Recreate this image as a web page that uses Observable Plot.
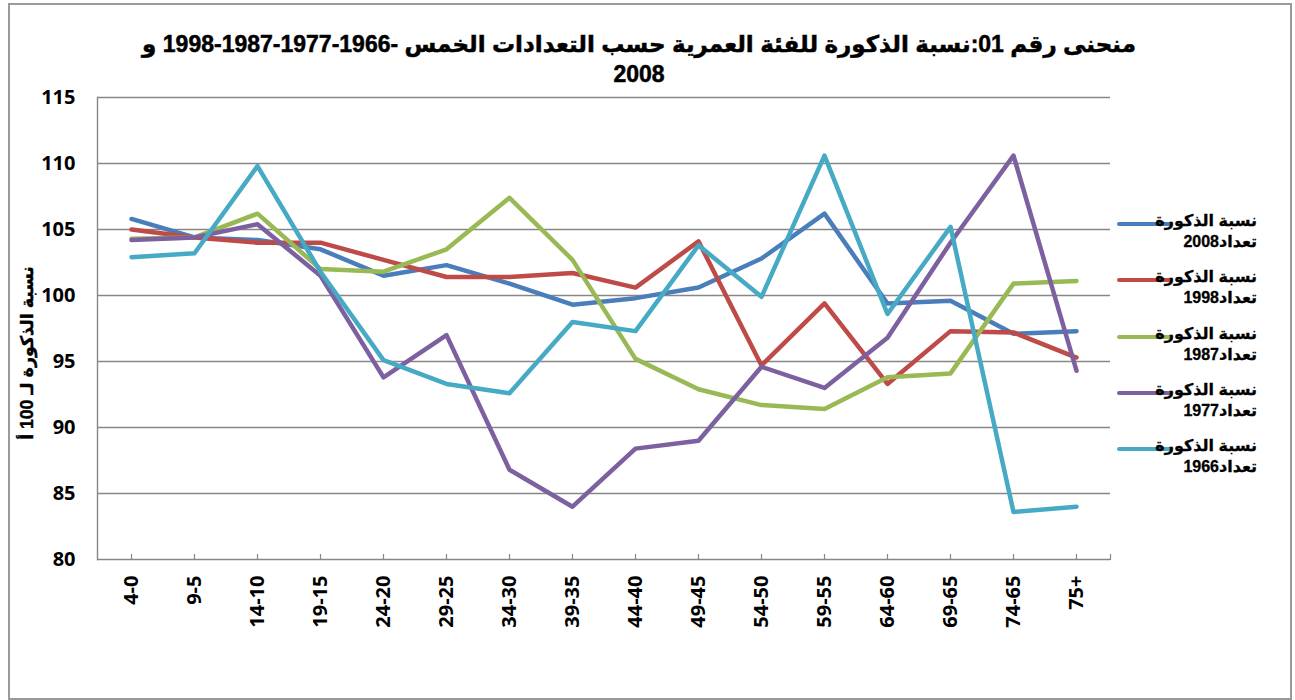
<!DOCTYPE html>
<html>
<head>
<meta charset="utf-8">
<script src="https://cdn.jsdelivr.net/npm/d3@7"></script>
<script src="https://cdn.jsdelivr.net/npm/@observablehq/plot@0.6"></script>
<style>
  html, body { margin: 0; padding: 0; background: #fff; }
  #wrap { position: relative; width: 1295px; height: 700px; overflow: hidden; }
  #border { position: absolute; left: 8px; top: 3px; width: 1280px; height: 693px; border: 2px solid #9a9a9a; box-sizing: content-box; }
  #title { position: absolute; left: 0; top: 29px; width: 1278px; text-align: center; direction: rtl;
           font-family: "Liberation Sans", "DejaVu Sans", sans-serif; font-weight: bold; font-size: 23px; line-height: 30px; color: #000; white-space: nowrap;
           -webkit-text-stroke: 0.5px #000; }
  #ylabel { position: absolute; left: 27px; top: 353px; transform: translate(-50%, -50%) rotate(-90deg);
            font-family: "Liberation Sans", "DejaVu Sans", sans-serif; font-weight: bold; font-size: 17.5px; white-space: nowrap; direction: rtl; color: #000;
            -webkit-text-stroke: 0.4px #000; }
  #legend { position: absolute; left: 1117px; top: 0; }
  .item { position: absolute; left: 0; width: 140px; height: 50px; }
  .swatch { position: absolute; left: 0; width: 55px; height: 4px; border-radius: 2px; }
  .lt { position: absolute; right: 0; direction: rtl; text-align: right; white-space: nowrap;
        font-family: "Liberation Sans", "DejaVu Sans", sans-serif; font-weight: bold; font-size: 16px; color: #000; line-height: 21px;
        -webkit-text-stroke: 0.3px #000; }
  svg { position: absolute; left: 0; top: 0; }
</style>
</head>
<body>
<div id="wrap">
  <div id="border"></div>
  <div id="chart"></div>
  <div id="title"></div>
  <div id="ylabel"></div>
  <div id="legend"></div>
</div>
<script>
const categories = ["4-0","9-5","14-10","19-15","24-20","29-25","34-30","39-35","44-40","49-45","54-50","59-55","64-60","69-65","74-65","75+"];
const s2008 = [105.8,104.4,104.2,103.5,101.5,102.3,100.9,99.3,99.8,100.6,102.8,106.2,99.4,99.6,97.1,97.3];
const s1998 = [105.0,104.4,104.0,104.0,102.7,101.4,101.4,101.7,100.6,104.1,94.7,99.4,93.3,97.3,97.2,95.3];
const s1987 = [104.3,104.4,106.2,102.0,101.8,103.5,107.4,102.7,95.2,92.9,91.7,91.4,93.8,94.1,100.9,101.1];
const s1977 = [104.2,104.4,105.4,101.5,93.8,97.0,86.8,84.0,88.4,89.0,94.6,93.0,96.8,104.0,110.6,94.3];
const s1966 = [102.9,103.2,109.8,101.8,95.1,93.3,92.6,98.0,97.3,103.8,99.9,110.6,98.6,105.2,83.6,84.0];
const seriesNames = ["2008","1998","1987","1977","1966"];
const seriesColors = ["#4A7EBB","#BE4B48","#98B954","#7D60A0","#46AAC5"];
const yTicks = [80,85,90,95,100,105,110,115];
const legendLine1 = "نسبة الذكورة";
const legendPrefix = "تعداد";
const titleLine1 = "منحنى رقم 01:نسبة الذكورة للفئة العمرية حسب التعدادات الخمس -1966\u200F-\u200F1977\u200F-\u200F1987\u200F-\u200F1998 و";
const titleLine2 = "2008";
const yLabel = "نسبة الذكورة لـ 100 أ";

const allSeries = [s2008, s1998, s1987, s1977, s1966];
const rows = [];
seriesNames.forEach((name, si) => {
  categories.forEach((c, i) => rows.push({series: name, age: c, value: allSeries[si][i]}));
});

const plot = Plot.plot({
  width: 1295,
  height: 700,
  marginLeft: 97,
  marginRight: 185,
  marginTop: 97,
  marginBottom: 141,
  style: {fontFamily: "'Open Sans', sans-serif", fontWeight: "bold", fontSize: "20px", color: "#000", background: "transparent"},
  x: {type: "point", domain: categories, padding: 0.5, label: null},
  y: {domain: [80, 115], label: null},
  color: {domain: seriesNames, range: seriesColors},
  marks: [
    Plot.ruleY(yTicks, {stroke: "#878787", strokeWidth: 1.4}),
    Plot.frame({anchor: "left", stroke: "#878787", strokeWidth: 1.4}),
    Plot.tickX(categories, {x: d => d, stroke: "#878787", strokeWidth: 1.2, insetTop: 457}),
    Plot.frame({anchor: "right", stroke: "#878787", strokeWidth: 1.2, insetTop: 457}),
    Plot.axisY({ticks: yTicks, tickSize: 0, tickPadding: 22, label: null, fontSize: 20}),
    Plot.axisX({tickSize: 0, tickPadding: 16, tickRotate: -90, label: null, fontSize: 20}),
    Plot.line(rows, {x: "age", y: "value", z: "series", stroke: "series", strokeWidth: 4.5, strokeLinejoin: "round", strokeLinecap: "round"})
  ]
});
document.getElementById("chart").appendChild(plot);

const title = document.getElementById("title");
const l1 = document.createElement("div"); l1.textContent = titleLine1;
const l2 = document.createElement("div"); l2.textContent = titleLine2;
title.appendChild(l1); title.appendChild(l2);

document.getElementById("ylabel").textContent = yLabel;

const legend = document.getElementById("legend");
seriesNames.forEach((name, i) => {
  const item = document.createElement("div");
  item.className = "item";
  item.style.top = (224 + i * 56.3 - 14) + "px";
  const sw = document.createElement("div");
  sw.className = "swatch";
  sw.style.top = "12px";
  sw.style.background = seriesColors[i];
  const t = document.createElement("div");
  t.className = "lt";
  t.style.top = "0px";
  const a = document.createElement("div"); a.textContent = legendLine1;
  const b = document.createElement("div"); b.textContent = legendPrefix + name;
  t.appendChild(a); t.appendChild(b);
  item.appendChild(sw); item.appendChild(t);
  legend.appendChild(item);
});
</script>
</body>
</html>
